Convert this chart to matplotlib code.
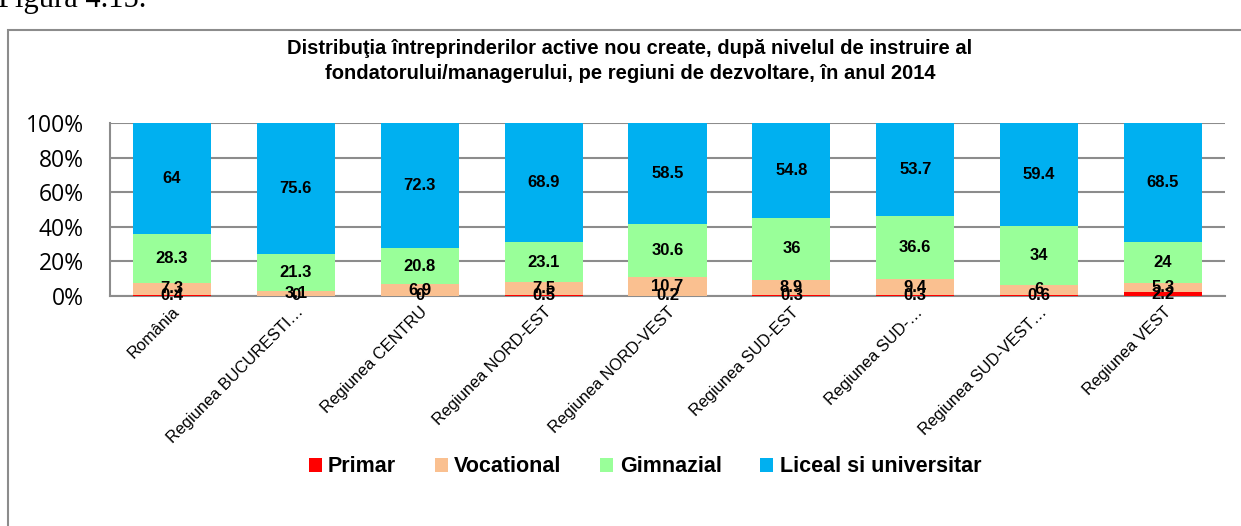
import matplotlib
matplotlib.use("Agg")
import matplotlib.pyplot as plt
from matplotlib.patches import Rectangle
import numpy as np

categories = ["România", "Regiunea BUCURESTI…", "Regiunea CENTRU", "Regiunea NORD-EST",
              "Regiunea NORD-VEST", "Regiunea SUD-EST", "Regiunea SUD-…",
              "Regiunea SUD-VEST…", "Regiunea VEST"]
primar = [0.4, 0, 0, 0.5, 0.2, 0.3, 0.3, 0.6, 2.2]
vocational = [7.3, 3.1, 6.9, 7.5, 10.7, 8.9, 9.4, 6, 5.3]
gimnazial = [28.3, 21.3, 20.8, 23.1, 30.6, 36, 36.6, 34, 24]
liceal = [64, 75.6, 72.3, 68.9, 58.5, 54.8, 53.7, 59.4, 68.5]
series_names = ["Primar", "Vocational", "Gimnazial", "Liceal si universitar"]
colors = ["#FF0000", "#FAC090", "#99FF99", "#00B0F0"]
yticks = [0, 20, 40, 60, 80, 100]

W, H = 1241, 526
fig = plt.figure(figsize=(W / 100, H / 100), dpi=100)
plt.rcParams['font.family'] = ['Liberation Sans', 'DejaVu Sans']

# outer frame
fig.patches.append(Rectangle((8 / W, -0.1), 1.2, 1 - 30 / H + 0.1, transform=fig.transFigure,
                             fill=False, edgecolor="#8C8C8C", linewidth=1.5))
fig.text(-2 / W, 1 - 7 / H, "Figura 4.15.", family="Liberation Serif", fontsize=22,
         ha="left", va="baseline")

ax = fig.add_axes([110 / W, 1 - 296 / H, (1225 - 110) / W, (296 - 123) / H])
x = np.arange(len(categories))
series = [primar, vocational, gimnazial, liceal]
bottom = np.zeros(len(categories))
width = 0.63
for vals, col, name in zip(series, colors, series_names):
    vals = np.array(vals, dtype=float)
    ax.bar(x, vals, width, bottom=bottom, color=col, label=name, zorder=3)
    for xi, b, v in zip(x, bottom, vals):
        lab = f"{v:g}"
        yc = b + v / 2
        ax.text(xi, yc, lab, ha="center", va="center", fontsize=12, fontweight="bold",
                zorder=5)
    bottom += vals

ax.set_xlim(-0.5, len(categories) - 0.5)
ax.set_ylim(0, 100)
ax.set_yticks(yticks)
ax.set_yticklabels([f"{t}%" for t in yticks], fontsize=16.5, family="Open Sans")
ax.yaxis.grid(True, color="#8C8C8C", linewidth=1.5, zorder=0)
ax.set_axisbelow(True)
ax.tick_params(axis="y", length=0, pad=19)
ax.tick_params(axis="x", length=0, pad=6)
ax.set_xticks(x)
ax.set_xticklabels(categories, rotation=45, ha="right", rotation_mode="anchor", fontsize=11.8)
for s in ["top", "right"]:
    ax.spines[s].set_visible(False)
for s in ["left", "bottom"]:
    ax.spines[s].set_color("#8C8C8C")
    ax.spines[s].set_linewidth(1.5)

fig.text(630 / W, 1 - 61 / H,
         "Distribuţia întreprinderilor active nou create, după nivelul de instruire al\n"
         "fondatorului/managerului, pe regiuni de dezvoltare, în anul 2014",
         ha="center", va="center", fontsize=14.5, fontweight="bold", linespacing=1.45)

handles, labels = ax.get_legend_handles_labels()
fig.legend(handles, labels, loc="center", bbox_to_anchor=(645 / W, 1 - 467 / H), ncol=4,
           frameon=False, prop={"weight": "bold", "size": 15.5}, handlelength=0.6,
           handleheight=0.6, handletextpad=0.3, columnspacing=1.8)

fig.savefig("out.png", dpi=100)
